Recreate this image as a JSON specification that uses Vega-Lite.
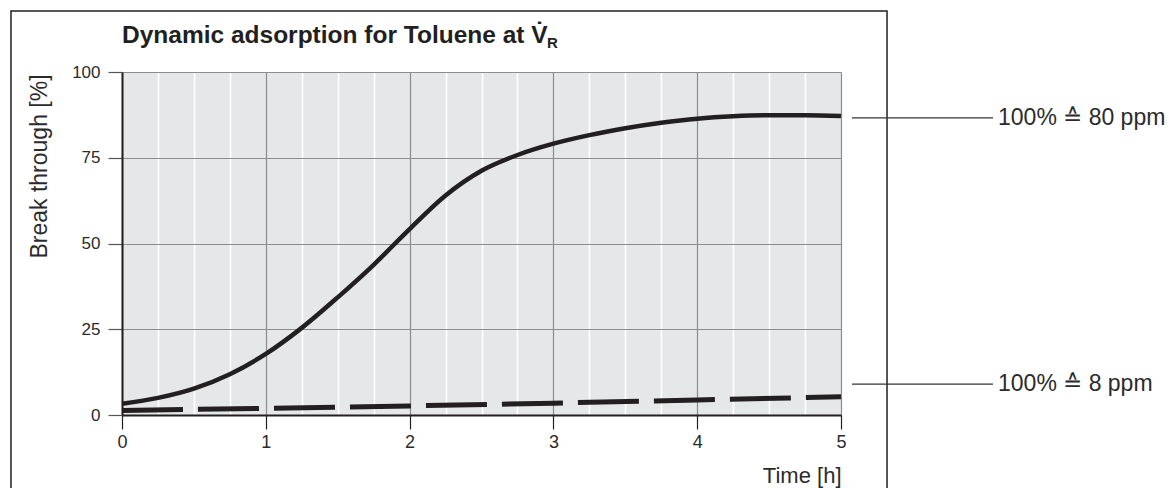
{
  "$schema": "https://vega.github.io/schema/vega-lite/v6.json",
  "width": 719,
  "height": 343,
  "autosize": {"type": "none"},
  "padding": {"left": 122, "top": 72, "right": 328, "bottom": 73},
  "background": "white",
  "config": {
    "view": {"fill": "#e6e7e8", "stroke": null},
    "font": "Liberation Sans"
  },
  "datasets": {
    "breakthrough80": [
      {"t": 0, "v": 3.3}, {"t": 0.25, "v": 5.0}, {"t": 0.5, "v": 7.7}, {"t": 0.75, "v": 11.9},
      {"t": 1, "v": 17.8}, {"t": 1.25, "v": 25.4}, {"t": 1.5, "v": 34.3}, {"t": 1.75, "v": 43.8},
      {"t": 2, "v": 54.2}, {"t": 2.25, "v": 64.0}, {"t": 2.5, "v": 71.2}, {"t": 2.75, "v": 75.8},
      {"t": 3, "v": 79.1}, {"t": 3.25, "v": 81.6}, {"t": 3.5, "v": 83.6}, {"t": 3.75, "v": 85.2},
      {"t": 4, "v": 86.4}, {"t": 4.25, "v": 87.1}, {"t": 4.5, "v": 87.4}, {"t": 4.75, "v": 87.4},
      {"t": 5, "v": 87.2}
    ],
    "breakthrough8": [
      {"t": 0, "v": 1.3}, {"t": 1, "v": 1.95}, {"t": 2, "v": 2.65},
      {"t": 3, "v": 3.45}, {"t": 4, "v": 4.4}, {"t": 5, "v": 5.3}
    ],
    "notes": [
      {"label": "100% ≙ 80 ppm", "level": 86.6},
      {"label": "100% ≙ 8 ppm", "level": 9.0}
    ]
  },
  "layer": [
    {
      "data": {"name": "breakthrough80"},
      "mark": {"type": "line", "color": "#231f20", "strokeWidth": 4.5, "interpolate": "monotone"},
      "encoding": {
        "x": {
          "field": "t", "type": "quantitative",
          "scale": {"domain": [0, 5], "nice": false},
          "axis": {
            "orient": "bottom",
            "values": [0, 0.25, 0.5, 0.75, 1, 1.25, 1.5, 1.75, 2, 2.25, 2.5, 2.75, 3, 3.25, 3.5, 3.75, 4, 4.25, 4.5, 4.75, 5],
            "labelExpr": "datum.value % 1 === 0 ? format(datum.value, 'd') : ''",
            "labelOverlap": false, "labelBound": false,
            "grid": true,
            "gridColor": {"condition": {"test": "datum.value % 1 === 0", "value": "#8c8c8c"}, "value": "#ffffff"},
            "gridWidth": {"condition": {"test": "datum.value % 1 === 0", "value": 1.2}, "value": 1.6},
            "gridOpacity": 1,
            "domainColor": "#231f20", "domainWidth": 2,
            "tickColor": "#231f20", "tickWidth": 1.2, "tickSize": 14,
            "tickOpacity": {"condition": {"test": "datum.value % 1 === 0", "value": 1}, "value": 0},
            "labelFontSize": 18, "labelColor": "#2b2b2b", "labelPadding": 4, "labelFlush": false,
            "title": "Time [h]", "titleFontSize": 22, "titleFontWeight": "normal", "titleColor": "#2b2b2b",
            "titleX": 719, "titleY": 67, "titleAlign": "right", "titleBaseline": "alphabetic"
          }
        },
        "y": {
          "field": "v", "type": "quantitative",
          "scale": {"domain": [0, 100], "nice": false},
          "axis": {
            "orient": "left",
            "values": [0, 25, 50, 75, 100],
            "grid": true, "gridColor": "#8c8c8c", "gridWidth": 1.2, "gridOpacity": 1,
            "domainColor": "#231f20", "domainWidth": 2,
            "tickColor": "#555555", "tickWidth": 1.2, "tickSize": 14,
            "labelFontSize": 17, "labelColor": "#2b2b2b", "labelPadding": 8, "labelFlush": false,
            "title": "Break through [%]", "titleFontSize": 23, "titleFontWeight": "normal", "titleColor": "#2b2b2b",
            "titleAngle": -90, "titleX": -76, "titleY": 94, "titleAlign": "center", "titleBaseline": "alphabetic"
          }
        }
      }
    },
    {
      "data": {"name": "breakthrough8"},
      "mark": {"type": "line", "color": "#231f20", "strokeWidth": 5, "strokeDash": [61, 15], "strokeCap": "butt"},
      "encoding": {
        "x": {"field": "t", "type": "quantitative", "scale": {"domain": [0, 5], "nice": false}, "axis": null},
        "y": {"field": "v", "type": "quantitative", "scale": {"domain": [0, 100], "nice": false}, "axis": null}
      }
    },
    {
      "data": {"values": [{}]},
      "mark": {"type": "rect", "fillOpacity": 0, "stroke": "#231f20", "strokeWidth": 1.5, "clip": false},
      "encoding": {
        "x": {"datum": -0.772, "type": "quantitative", "scale": {"domain": [0, 5], "nice": false}, "axis": null},
        "x2": {"datum": 5.32},
        "y": {"datum": 117.8, "type": "quantitative", "scale": {"domain": [0, 100], "nice": false}, "axis": null},
        "y2": {"datum": -23.3}
      }
    },
    {
      "data": {"name": "notes"},
      "mark": {"type": "rule", "color": "#333333", "strokeWidth": 1.2, "clip": false},
      "encoding": {
        "x": {"datum": 5.077, "type": "quantitative", "scale": {"domain": [0, 5], "nice": false}, "axis": null},
        "x2": {"datum": 6.057},
        "y": {"field": "level", "type": "quantitative", "scale": {"domain": [0, 100], "nice": false}, "axis": null}
      }
    },
    {
      "data": {"name": "notes"},
      "mark": {"type": "text", "align": "left", "baseline": "middle", "fontSize": 23, "color": "#2b2b2b", "clip": false},
      "encoding": {
        "x": {"datum": 6.092, "type": "quantitative", "scale": {"domain": [0, 5], "nice": false}, "axis": null},
        "y": {"field": "level", "type": "quantitative", "scale": {"domain": [0, 100], "nice": false}, "axis": null},
        "text": {"field": "label"}
      }
    },
    {
      "data": {"values": [{}]},
      "mark": {"type": "text", "text": "Dynamic adsorption for Toluene at V\u0307", "align": "left", "baseline": "alphabetic", "fontSize": 24.5, "fontWeight": "bold", "color": "#231f20", "clip": false},
      "encoding": {
        "x": {"datum": 0, "type": "quantitative", "scale": {"domain": [0, 5], "nice": false}, "axis": null},
        "y": {"datum": 108.5, "type": "quantitative", "scale": {"domain": [0, 100], "nice": false}, "axis": null}
      }
    },
    {
      "data": {"values": [{}]},
      "mark": {"type": "text", "text": "R", "align": "left", "baseline": "alphabetic", "fontSize": 15, "fontWeight": "bold", "color": "#231f20", "clip": false},
      "encoding": {
        "x": {"datum": 2.955, "type": "quantitative", "scale": {"domain": [0, 5], "nice": false}, "axis": null},
        "y": {"datum": 107.0, "type": "quantitative", "scale": {"domain": [0, 100], "nice": false}, "axis": null}
      }
    }
  ],
  "resolve": {"axis": {"x": "independent", "y": "independent"}}
}
